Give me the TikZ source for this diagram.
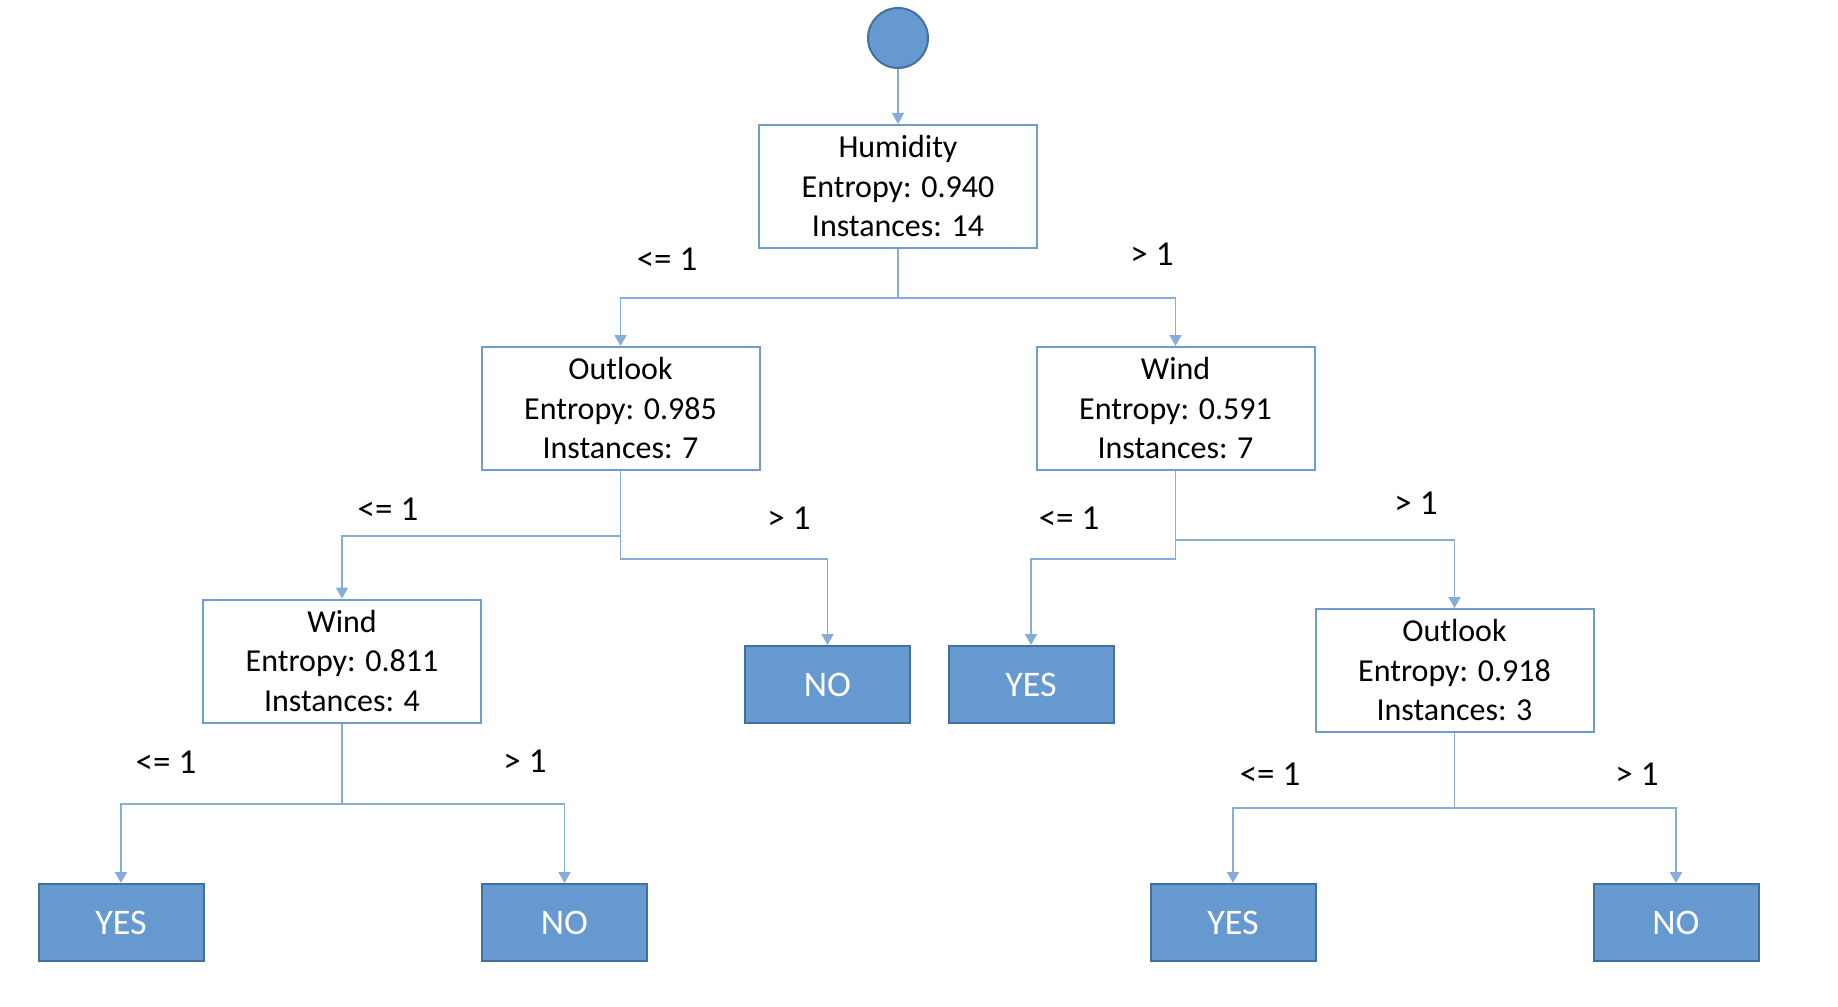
\documentclass[tikz,border=0pt]{standalone}
\usepackage{fontspec}
\setmainfont{Carlito}
\usetikzlibrary{arrows.meta}
\definecolor{boxline}{HTML}{6F9BD1}
\definecolor{leaffill}{HTML}{6699CF}
\definecolor{leafline}{HTML}{41719C}
\definecolor{connline}{HTML}{86ADDA}
\begin{document}
\begin{tikzpicture}[x=1pt,y=-1pt,
 splitbox/.style={draw=boxline, line width=2pt, fill=white, minimum width=278pt, minimum height=123pt, align=center, font=\fontsize{32}{39.5}\selectfont, inner sep=0pt},
 leafbox/.style={draw=leafline, line width=2pt, fill=leaffill, minimum width=165pt, minimum height=77pt, text=white, font=\fontsize{36}{40}\selectfont, inner sep=0pt},
 rootdot/.style={circle, draw=leafline, line width=2pt, fill=leaffill, minimum size=60pt, inner sep=0pt},
 conn/.style={draw=connline, line width=1.8pt, -{Triangle[length=11pt,width=12pt]}},
 lbl/.style={font=\fontsize{35}{40}\selectfont, inner sep=0pt}]
\useasboundingbox (0,0) rectangle (1838,1006);
% nodes
\node[rootdot] (root) at (898,38) {};
\node[splitbox] (hum) at (898,186.5) {Humidity\\Entropy: 0.940\\Instances: 14};
\node[splitbox] (outA) at (620.5,408.5) {Outlook\\Entropy: 0.985\\Instances: 7};
\node[splitbox] (windA) at (1175.5,408.5) {Wind\\Entropy: 0.591\\Instances: 7};
\node[splitbox] (windB) at (342,661) {Wind\\Entropy: 0.811\\Instances: 4};
\node[splitbox] (outB) at (1454.5,670.5) {Outlook\\Entropy: 0.918\\Instances: 3};
\node[leafbox] (noA) at (827.5,684.5) {NO};
\node[leafbox] (yesA) at (1031,684.5) {YES};
\node[leafbox] (yesB) at (121,922.5) {YES};
\node[leafbox] (noB) at (564.5,922.5) {NO};
\node[leafbox] (yesC) at (1233,922.5) {YES};
\node[leafbox] (noC) at (1676,922.5) {NO};
% connectors
\draw[conn] (root.south) -- (hum.north);
\draw[conn] (hum.south) -- (hum.south |- 0,298) -| (outA.north);
\draw[conn] (hum.south) -- (hum.south |- 0,298) -| (windA.north);
\draw[conn] (outA.south) -- (outA.south |- 0,536) -| (windB.north);
\draw[conn] (outA.south) -- (outA.south |- 0,559) -| (noA.north);
\draw[conn] (windA.south) -- (windA.south |- 0,559) -| (yesA.north);
\draw[conn] (windA.south) -- (windA.south |- 0,540) -| (outB.north);
\draw[conn] (windB.south) -- (windB.south |- 0,804) -| (yesB.north);
\draw[conn] (windB.south) -- (windB.south |- 0,804) -| (noB.north);
\draw[conn] (outB.south) -- (outB.south |- 0,808) -| (yesC.north);
\draw[conn] (outB.south) -- (outB.south |- 0,808) -| (noC.north);
% labels
\node[lbl] (l1) at (667,259) {<= 1};
\node[lbl] (r1) at (1152,254) {> 1};
\node[lbl] (l2) at (388,509) {<= 1};
\node[lbl] (r2) at (789,518) {> 1};
\node[lbl] (l3) at (1069,518) {<= 1};
\node[lbl] (r3) at (1416,503) {> 1};
\node[lbl] (l4) at (166,762) {<= 1};
\node[lbl] (r4) at (525,761) {> 1};
\node[lbl] (l5) at (1270,774) {<= 1};
\node[lbl] (r5) at (1637,774) {> 1};
\end{tikzpicture}
\end{document}
